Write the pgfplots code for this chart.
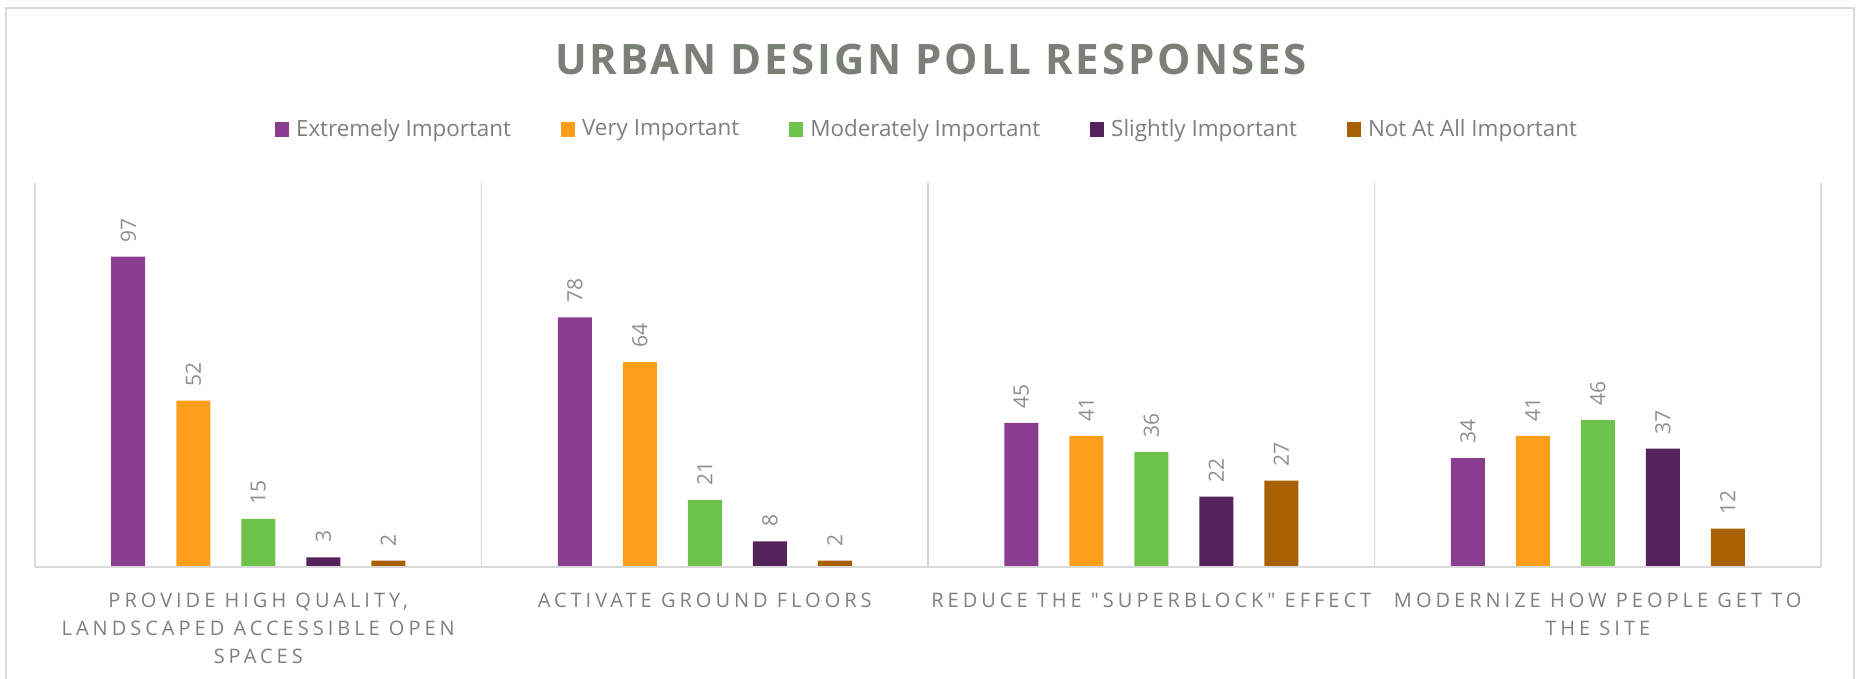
\documentclass[border=0pt]{standalone}
\usepackage{fontspec}
\setmainfont{Open Sans}
\newfontfamily\catfont[LetterSpace=20]{Open Sans}
\newfontfamily\titlefont[LetterSpace=7]{Open Sans}
\usepackage{pgfplots}
\pgfplotsset{compat=1.18}
\definecolor{cA}{HTML}{8B3D8F}
\definecolor{cB}{HTML}{FF9E1B}
\definecolor{cC}{HTML}{6CC24A}
\definecolor{cD}{HTML}{55235A}
\definecolor{cE}{HTML}{A86000}
\definecolor{titlegray}{HTML}{7A8077}
\definecolor{labgray}{HTML}{7C8279}
\definecolor{numgray}{HTML}{8E8E8E}
\definecolor{leggray}{HTML}{7F7F7F}
\definecolor{gridgray}{HTML}{D9D9D9}
\begin{document}
\begin{tikzpicture}
\useasboundingbox (-17.5pt,-56pt) rectangle (911.5pt,283.5pt);
\draw[color=gridgray, line width=1pt] (-14.5pt,-80pt) rectangle (909.5pt,279.5pt);
\node[font=\fontsize{21}{25}\titlefont\bfseries, text=titlegray] at (448pt,254pt) {URBAN DESIGN POLL RESPONSES};
\begin{axis}[
  at={(0,0)}, anchor=south west, scale only axis,
  width=893pt, height=192pt,
  xmin=-0.5, xmax=3.5, ymin=0, ymax=120,
  ybar=15.5pt, bar width=17pt,
  axis line style={draw=none},
  ytick=\empty, xtick={0,1,2,3},
  xticklabels={{PROVIDE HIGH QUALITY,\\LANDSCAPED ACCESSIBLE OPEN\\SPACES},{ACTIVATE GROUND FLOORS},{REDUCE THE "SUPERBLOCK" EFFECT},{MODERNIZE HOW PEOPLE GET TO\\THE SITE}},
  major tick length=0pt,
  xticklabel style={align=center, font=\fontsize{10}{14}\catfont, text=labgray, yshift=-9.5pt},
  clip=false,
  /pgf/number format/assume math mode=true,
  nodes near coords,
  every node near coord/.append style={rotate=90, anchor=west, inner xsep=7pt, inner ysep=0pt, font=\fontsize{10.5}{12}\selectfont, text=numgray},
  legend columns=5,
  legend style={draw=none, at={(0.5,1.1406)}, anchor=center, font=\fontsize{11.2}{13}\selectfont, text=leggray,
    /tikz/every even column/.append style={column sep=23pt}},
  legend image code/.code={\fill[#1] (0pt,-3.75pt) rectangle (7pt,3.75pt); \path (8.5pt,0pt);},
]
\addplot[fill=cA, draw=none] coordinates {(0,97) (1,78) (2,45) (3,34)};
\addplot[fill=cB, draw=none] coordinates {(0,52) (1,64) (2,41) (3,41)};
\addplot[fill=cC, draw=none] coordinates {(0,15) (1,21) (2,36) (3,46)};
\addplot[fill=cD, draw=none] coordinates {(0,3) (1,8) (2,22) (3,37)};
\addplot[fill=cE, draw=none] coordinates {(0,2) (1,2) (2,27) (3,12)};
\legend{Extremely Important, Very Important, Moderately Important, Slightly Important, Not At All Important}
\draw[gridgray, line width=0.8pt] (axis cs:-0.5,0) -- (axis cs:-0.5,120);
\draw[gridgray, line width=0.8pt] (axis cs:0.5,0) -- (axis cs:0.5,120);
\draw[gridgray, line width=0.8pt] (axis cs:1.5,0) -- (axis cs:1.5,120);
\draw[gridgray, line width=0.8pt] (axis cs:2.5,0) -- (axis cs:2.5,120);
\draw[gridgray, line width=0.8pt] (axis cs:3.5,0) -- (axis cs:3.5,120);
\draw[gridgray, line width=1.2pt] (axis cs:-0.5,0) -- (axis cs:3.5,0);
\end{axis}
\end{tikzpicture}
\end{document}
